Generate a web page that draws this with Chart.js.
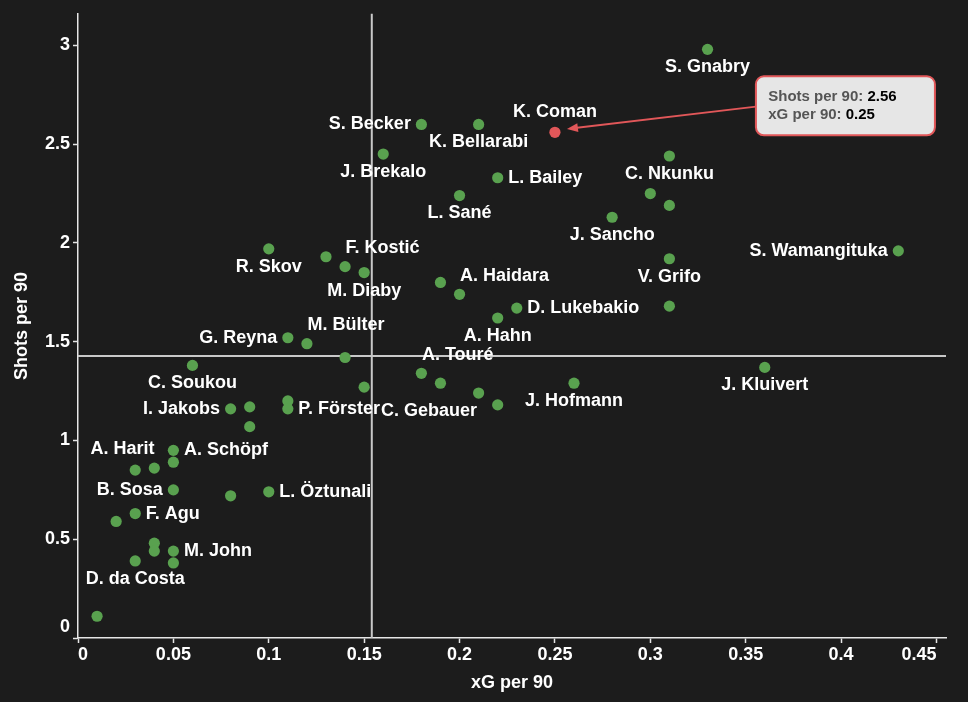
<!DOCTYPE html>
<html>
<head>
<meta charset="utf-8">
<script src="https://cdn.jsdelivr.net/npm/chart.js@4.4.0/dist/chart.umd.min.js"></script>
<style>
html, body { margin: 0; padding: 0; background: #1c1c1c; }
#wrap { width: 968px; height: 702px; }
</style>
</head>
<body>
<div id="wrap"><canvas id="chart-xg"></canvas></div>
<script>
// one entry per player, '' = point without a name label
var players = [
    'S. Gnabry', 'K. Coman', 'S. Becker', 'K. Bellarabi', 'J. Brekalo', 'L. Bailey', 'L. Sané', 'J. Sancho',
    'C. Nkunku', '', '', 'V. Grifo', '', 'S. Wamangituka', 'R. Skov', '', 'F. Kostić', 'M. Diaby',
    'G. Reyna', 'M. Bülter', '', 'A. Haidara', 'D. Lukebakio', 'A. Hahn', '', 'A. Touré', '', '',
    'C. Gebauer', '', 'J. Hofmann', 'J. Kluivert', 'C. Soukou', 'I. Jakobs', '', '', '', 'P. Förster',
    'A. Schöpf', '', '', 'A. Harit', 'B. Sosa', '', 'L. Öztunali', 'F. Agu', '', '', '', 'M. John', '',
    'D. da Costa', ''
];
var xgPer90 = [
    0.33, 0.25, 0.18, 0.21, 0.16, 0.22, 0.20, 0.28,
    0.31, 0.30, 0.31, 0.31, 0.31, 0.43, 0.10, 0.13, 0.14, 0.15,
    0.11, 0.12, 0.19, 0.20, 0.23, 0.22, 0.14, 0.18, 0.15, 0.19,
    0.21, 0.22, 0.26, 0.36, 0.06, 0.08, 0.09, 0.09, 0.11, 0.11,
    0.05, 0.05, 0.03, 0.04, 0.05, 0.08, 0.10, 0.03, 0.02, 0.04, 0.04, 0.05, 0.05,
    0.03, 0.01
];
var shotsPer90 = [
    2.98, 2.56, 2.60, 2.60, 2.45, 2.33, 2.24, 2.13,
    2.44, 2.25, 2.19, 1.92, 1.68, 1.96, 1.97, 1.93, 1.88, 1.85,
    1.52, 1.49, 1.80, 1.74, 1.67, 1.62, 1.42, 1.34, 1.27, 1.29,
    1.24, 1.18, 1.29, 1.37, 1.38, 1.16, 1.17, 1.07, 1.20, 1.16,
    0.95, 0.89, 0.85, 0.86, 0.75, 0.72, 0.74, 0.63, 0.59, 0.48, 0.44, 0.44, 0.38,
    0.39, 0.11
];
var xTicks = [0, 0.05, 0.1, 0.15, 0.2, 0.25, 0.3, 0.35, 0.4, 0.45];
var yTicks = [0, 0.5, 1, 1.5, 2, 2.5, 3];
var xgAverage = 0.154;
var shotsAverage = 1.427;
var highlighted = 'K. Coman';

// where each name sits around its dot
var labelSide = {
    'S. Gnabry': 'below', 'K. Coman': 'above', 'S. Becker': 'left', 'K. Bellarabi': 'below',
    'J. Brekalo': 'below', 'L. Bailey': 'right', 'L. Sané': 'below', 'J. Sancho': 'below',
    'C. Nkunku': 'below', 'V. Grifo': 'below', 'S. Wamangituka': 'left', 'R. Skov': 'below',
    'F. Kostić': 'aboveRight', 'M. Diaby': 'below', 'G. Reyna': 'left', 'M. Bülter': 'aboveRight',
    'A. Haidara': 'aboveRight', 'D. Lukebakio': 'right', 'A. Hahn': 'below', 'A. Touré': 'aboveRight',
    'C. Gebauer': 'belowLeft', 'J. Hofmann': 'below', 'J. Kluivert': 'below', 'C. Soukou': 'below',
    'I. Jakobs': 'left', 'P. Förster': 'right', 'A. Schöpf': 'right', 'A. Harit': 'aboveLeft',
    'B. Sosa': 'left', 'L. Öztunali': 'right', 'F. Agu': 'right', 'M. John': 'right', 'D. da Costa': 'below'
};
var sides = {
    below: {align: 'center', dx: 0, dy: 18},
    above: {align: 'center', dx: 0, dy: -20.5},
    left: {align: 'right', dx: -10.5, dy: 0},
    right: {align: 'left', dx: 10.5, dy: 0},
    aboveRight: {align: 'left', dx: 0.5, dy: -18.5},
    aboveLeft: {align: 'right', dx: 0.3, dy: -18.7},
    belowLeft: {align: 'right', dx: -1.5, dy: 18}
};

var FONT = '"Liberation Sans", Arial, sans-serif';
var GREEN = '#59a14f';
var RED = '#e15759';
var AXIS = '#e6e6e6';

var points = [];
for (var i = 0; i < players.length; i++) {
    points.push({x: xgPer90[i], y: shotsPer90[i]});
}

var background = {
    id: 'background',
    beforeDraw: function (chart) {
        var c = chart.ctx;
        c.save();
        c.fillStyle = '#1c1c1c';
        c.fillRect(0, 0, chart.width, chart.height);
        c.restore();
    }
};

var averageLines = {
    id: 'averageLines',
    beforeDatasetsDraw: function (chart) {
        var c = chart.ctx, a = chart.chartArea;
        var px = chart.scales.x.getPixelForValue(xgAverage);
        var py = chart.scales.y.getPixelForValue(shotsAverage);
        c.save();
        c.strokeStyle = '#c8c8c8';
        c.lineWidth = 2;
        c.beginPath();
        c.moveTo(px, a.top);
        c.lineTo(px, a.bottom);
        c.moveTo(a.left, py);
        c.lineTo(a.right, py);
        c.stroke();
        c.restore();
    }
};

var nameLabels = {
    id: 'nameLabels',
    afterDatasetsDraw: function (chart) {
        var c = chart.ctx;
        var meta = chart.getDatasetMeta(0);
        c.save();
        c.font = 'bold 18px ' + FONT;
        c.fillStyle = '#ffffff';
        c.textBaseline = 'middle';
        meta.data.forEach(function (el, i) {
            var name = players[i];
            if (!name) return;
            var s = sides[labelSide[name] || 'below'];
            c.textAlign = s.align;
            c.fillText(name, el.x + s.dx, el.y + s.dy);
        });
        c.restore();
    }
};

var callout = {
    id: 'callout',
    afterDraw: function (chart) {
        var idx = players.indexOf(highlighted);
        var el = chart.getDatasetMeta(0).data[idx];
        var c = chart.ctx;
        var bx = el.x + 201, by = el.y - 56, bw = 179, bh = 59;
        var sx = bx, sy = el.y - 25.7;
        var tx = el.x + 12, ty = el.y - 3.4;
        var ang = Math.atan2(ty - sy, tx - sx);
        c.save();
        // arrow
        c.strokeStyle = RED;
        c.fillStyle = RED;
        c.lineWidth = 2;
        c.beginPath();
        c.moveTo(sx, sy);
        c.lineTo(tx - 8 * Math.cos(ang), ty - 8 * Math.sin(ang));
        c.stroke();
        c.beginPath();
        c.moveTo(tx, ty);
        c.lineTo(tx - 11 * Math.cos(ang) + 4.5 * Math.sin(ang), ty - 11 * Math.sin(ang) - 4.5 * Math.cos(ang));
        c.lineTo(tx - 11 * Math.cos(ang) - 4.5 * Math.sin(ang), ty - 11 * Math.sin(ang) + 4.5 * Math.cos(ang));
        c.closePath();
        c.fill();
        // box
        c.beginPath();
        c.roundRect(bx, by, bw, bh, 8);
        c.fillStyle = '#e6e6e6';
        c.fill();
        c.lineWidth = 2;
        c.strokeStyle = RED;
        c.stroke();
        // text
        c.font = 'bold 15px ' + FONT;
        c.textAlign = 'left';
        c.textBaseline = 'alphabetic';
        var rows = [['Shots per 90: ', shotsPer90[idx].toFixed(2)], ['xG per 90: ', xgPer90[idx].toFixed(2)]];
        rows.forEach(function (r, k) {
            var y = by + 24.6 + k * 18;
            c.fillStyle = '#555555';
            c.fillText(r[0], bx + 12.3, y);
            var w = c.measureText(r[0]).width;
            c.fillStyle = '#000000';
            c.fillText(r[1], bx + 12.3 + w, y);
        });
        c.restore();
    }
};

var tickFont = {family: FONT, size: 18, weight: 'bold', lineHeight: 1.2};

const ctx = document.getElementById('chart-xg').getContext('2d');
var chart = new Chart(ctx, {
    type: 'scatter',
    data: {
        datasets: [{
            label: 'Players',
            data: points,
            pointRadius: 5.6,
            pointHoverRadius: 5.6,
            borderWidth: 0,
            backgroundColor: function (c) { return players[c.dataIndex] === highlighted ? RED : GREEN; }
        }]
    },
    options: {
        responsive: true,
        maintainAspectRatio: false,
        animation: false,
        events: [],
        layout: {padding: {left: 0, right: 22, top: 12, bottom: 0}},
        plugins: {legend: {display: false}, tooltip: {enabled: false}},
        scales: {
            x: {
                type: 'linear',
                min: 0,
                max: 0.455,
                afterBuildTicks: function (s) { s.ticks = xTicks.map(function (v) { return {value: v}; }); },
                afterFit: function (s) { s.height = 64; },
                border: {display: true, color: AXIS, width: 1.5},
                grid: {drawOnChartArea: false, drawTicks: true, tickLength: 5, tickColor: AXIS, tickWidth: 1.5},
                ticks: {
                    color: '#ffffff', font: tickFont, padding: 1, align: 'inner',
                    maxRotation: 0, autoSkip: false,
                    callback: function (v) { return String(+v.toFixed(2)); }
                },
                title: {display: true, text: 'xG per 90', color: '#ffffff', font: tickFont, padding: {top: 0, bottom: 8}}
            },
            y: {
                type: 'linear',
                min: 0,
                max: 3.16,
                afterBuildTicks: function (s) { s.ticks = yTicks.map(function (v) { return {value: v}; }); },
                afterFit: function (s) { s.width = 78; },
                border: {display: true, color: AXIS, width: 1.5},
                grid: {drawOnChartArea: false, drawTicks: true, tickLength: 5, tickColor: AXIS, tickWidth: 1.5},
                ticks: {
                    color: '#ffffff', font: tickFont, padding: 3, autoSkip: false,
                    callback: function (v) { return v === 0 ? ['0', ''] : String(+v.toFixed(2)); }
                },
                title: {display: true, text: 'Shots per 90', color: '#ffffff', font: tickFont, padding: {top: 11.7, bottom: 0}}
            }
        }
    },
    plugins: [background, averageLines, nameLabels, callout]
});
</script>
</body>
</html>
